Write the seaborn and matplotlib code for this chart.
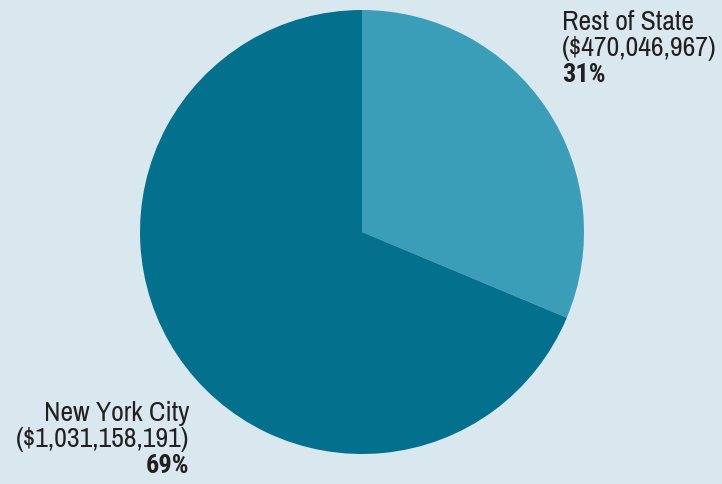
import matplotlib
matplotlib.use('Agg')
import matplotlib.pyplot as plt
import seaborn as sns

# Data
regions = ['Rest of State', 'New York City']
amounts = [470046967, 1031158191]
pct_labels = ['31%', '69%']
colors = ['#3a9eb9', '#03708d']
bg = '#d9e7ef'

sns.set_style('white')
plt.rcParams['font.family'] = ['Archivo Narrow', 'Roboto Condensed', 'DejaVu Sans']

W, H = 722, 484
fig = plt.figure(figsize=(W / 100, H / 100), dpi=100, facecolor=bg)
ax = fig.add_axes([0, 0, 1, 1])
ax.set_facecolor(bg)

# Pie, clockwise from 12 o'clock
ax.pie(amounts, colors=sns.color_palette(colors), startangle=90, counterclock=False,
       radius=222, center=(362, H - 232), wedgeprops=dict(linewidth=0))
ax.set_xlim(0, W)
ax.set_ylim(0, H)
ax.set_aspect('equal')
ax.axis('off')

txt = '#231f20'
fs = 20
step = 26
# one line per text so the bold percentage sits on its own baseline
blocks = [
    (562, 30, 'left', 0),
    (189, 421, 'right', 1),
]
for x, y0, ha, i in blocks:
    lines = [regions[i], f'(${amounts[i]:,})']
    for k, line in enumerate(lines):
        ax.text(x, H - (y0 + k * step), line, ha=ha, va='baseline', fontsize=fs, color=txt)
    ax.text(x, H - (y0 + 2 * step), pct_labels[i], ha=ha, va='baseline', fontsize=fs - 1,
            color=txt, fontweight='bold', family=['Roboto Condensed', 'DejaVu Sans'])

fig.savefig('out.png', dpi=100, facecolor=bg)
plt.close()
